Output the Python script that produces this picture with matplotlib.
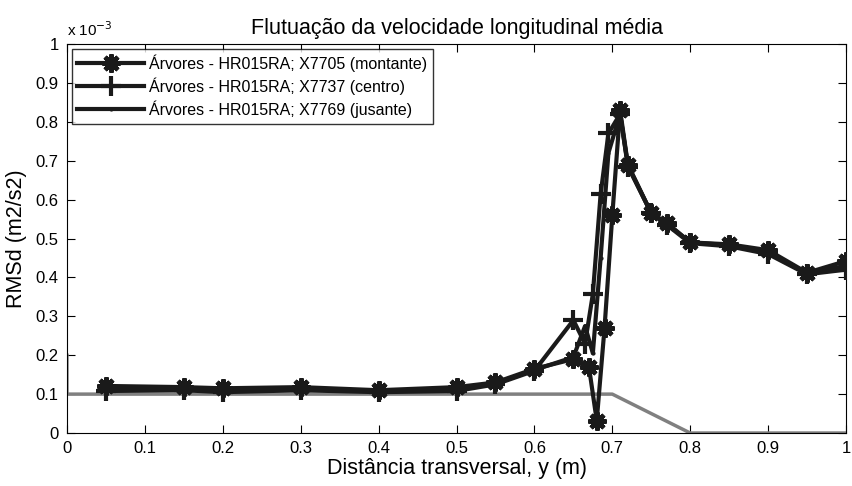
import matplotlib.pyplot as plt

plt.rcParams['font.family'] = ['Liberation Sans', 'DejaVu Sans']

# transverse positions (m) and RMS values (x 1e-3 m2/s2)
x_montante = [0.05, 0.15, 0.2, 0.3, 0.4, 0.5, 0.55, 0.6, 0.65, 0.67, 0.68, 0.69,
              0.70, 0.71, 0.72, 0.75, 0.77, 0.8, 0.85, 0.9, 0.95, 1.0]
y_montante = [0.121, 0.118, 0.115, 0.118, 0.110, 0.118, 0.130, 0.165, 0.190, 0.170,
              0.032, 0.270, 0.560, 0.830, 0.690, 0.565, 0.540, 0.490, 0.485, 0.470,
              0.412, 0.442]

x_centro = [0.05, 0.15, 0.2, 0.3, 0.4, 0.5, 0.55, 0.6, 0.65, 0.665, 0.675, 0.685,
            0.695, 0.71, 0.72, 0.75, 0.77, 0.8, 0.85, 0.9, 0.95, 1.0]
y_centro = [0.108, 0.110, 0.105, 0.110, 0.105, 0.108, 0.125, 0.160, 0.290, 0.230,
            0.357, 0.614, 0.770, 0.820, 0.685, 0.565, 0.535, 0.488, 0.480, 0.460,
            0.408, 0.420]

x_jusante = [0.05, 0.15, 0.2, 0.3, 0.4, 0.5, 0.55, 0.6, 0.65, 0.665, 0.675, 0.685,
             0.695, 0.71, 0.72, 0.75, 0.77, 0.8, 0.85, 0.9, 0.95, 1.0]
y_jusante = [0.115, 0.113, 0.110, 0.113, 0.108, 0.112, 0.128, 0.162, 0.195, 0.275,
             0.205, 0.450, 0.720, 0.820, 0.688, 0.565, 0.538, 0.490, 0.483, 0.465,
             0.410, 0.430]

# vegetation profile (grey)
x_perfil = [0.0, 0.0, 0.7, 0.8, 1.0]
y_perfil = [0.2, 0.1, 0.1, 0.0, 0.0]

fig = plt.figure(figsize=(8.52, 4.86), dpi=100)
ax = fig.add_axes([0.0786, 0.109, 0.9144, 0.8005])

ax.plot(x_perfil, y_perfil, color='#808080', lw=2.5, zorder=2)
ax.plot(x_montante, y_montante, color='#1a1a1a', lw=3, marker=(8, 2, 0), ms=13, mew=3.2,
        label=u'Árvores - HR015RA; X7705 (montante)', zorder=3)
ax.plot(x_centro, y_centro, color='#1a1a1a', lw=3, marker='+', ms=14, mew=3,
        label=u'Árvores - HR015RA; X7737 (centro)', zorder=3)
ax.plot(x_jusante, y_jusante, color='#1a1a1a', lw=3, marker='.', ms=4,
        label=u'Árvores - HR015RA; X7769 (jusante)', zorder=3)

ax.set_xlim(0, 1)
ax.set_ylim(0, 1)
ticks = [i / 10 for i in range(11)]
labels = ['0'] + ['%.1f' % t for t in ticks[1:-1]] + ['1']
ax.set_xticks(ticks)
ax.set_xticklabels(labels)
ax.set_yticks(ticks)
ax.set_yticklabels(labels)
ax.tick_params(direction='in', top=True, right=True, length=6, labelsize=12, pad=6)

ax.text(0.0, 1.012, r'x 10$^{-3}$', transform=ax.transAxes, fontsize=11, ha='left', va='bottom')
ax.set_title(u'Flutuação da velocidade longitudinal média', fontsize=15.5, pad=7)
ax.set_xlabel(u'Distância transversal, y (m)', fontsize=15.5, labelpad=1)
ax.set_ylabel('RMSd (m2/s2)', fontsize=15.5, labelpad=6)

leg = ax.legend(loc='upper left', fontsize=11.5, handlelength=4.2, frameon=True, fancybox=False,
                borderpad=0.35, labelspacing=0.35, handletextpad=0.3, borderaxespad=0.3)
leg.get_frame().set_edgecolor('black')
leg.get_frame().set_linewidth(1.0)

fig.savefig('out.png', dpi=100)
